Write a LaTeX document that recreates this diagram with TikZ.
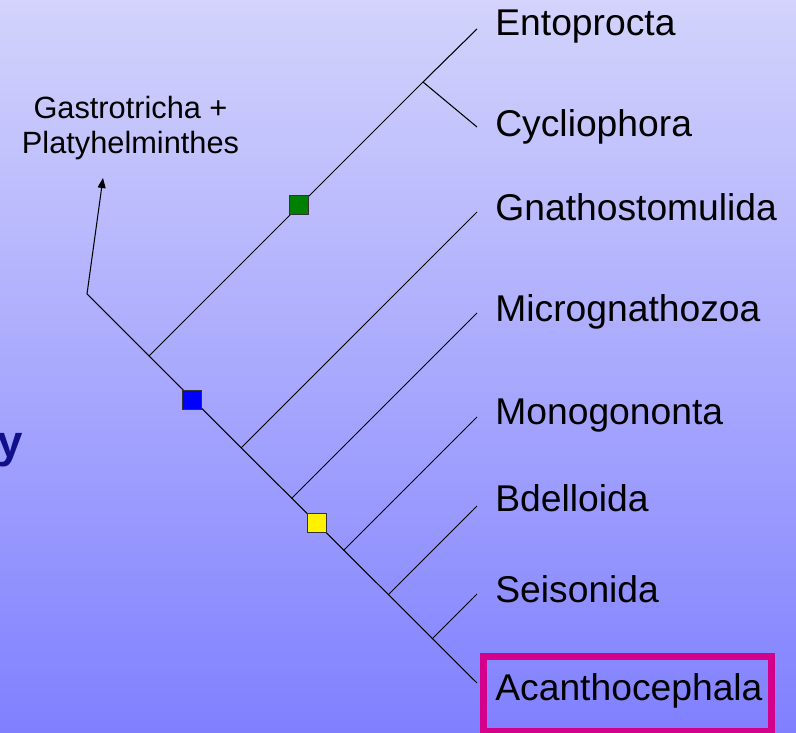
\documentclass[tikz,border=0pt]{standalone}
\usepackage{fontspec}
\setmainfont{Liberation Sans}
\usetikzlibrary{arrows.meta}

\definecolor{bgtop}{RGB}{211,211,252}
\definecolor{bgbot}{RGB}{128,128,255}
\definecolor{boxpink}{RGB}{212,0,140}
\definecolor{titleblue}{RGB}{16,16,140}
\definecolor{sqgreen}{RGB}{0,128,0}

\tikzset{
  branch/.style={line width=0.6pt, black},
  taxon/.style={anchor=base west, inner sep=0pt, font=\fontsize{21.2}{25}\selectfont},
  apo/.style={draw=black!80, line width=0.7pt, minimum size=0.37cm, inner sep=0pt},
}

\begin{document}
\begin{tikzpicture}[x=0.02cm, y=-0.02cm]
    \shade[top color=bgtop, bottom color=bgbot] (0,0) rectangle (796,733);
    \useasboundingbox (0,0) rectangle (796,733);
    \clip (0,0) rectangle (796,733);

    % tree points
    \coordinate (root) at (87,294);
    \coordinate (jEC) at (149,356);
    \coordinate (nEC) at (423,82);
    \coordinate (jGn) at (241,448);
    \coordinate (jMi) at (291.5,498.5);
    \coordinate (jMo) at (343.5,550.5);
    \coordinate (jBd) at (388,595);
    \coordinate (jSe) at (432,639);
    \coordinate (tEn) at (477,29);
    \coordinate (tCy) at (477,127);
    \coordinate (tGn) at (477,212);
    \coordinate (tMi) at (477,313);
    \coordinate (tMo) at (477,417);
    \coordinate (tBd) at (477,506);
    \coordinate (tSe) at (477,594);
    \coordinate (tAc) at (477,683);
    \coordinate (arr) at (103,178);

    % stem and branches
    \draw[branch] (root) -- (tAc);
    \draw[branch] (jEC) -- (nEC) -- (tEn);
    \draw[branch] (nEC) -- (tCy);
    \draw[branch] (jGn) -- (tGn);
    \draw[branch] (jMi) -- (tMi);
    \draw[branch] (jMo) -- (tMo);
    \draw[branch] (jBd) -- (tBd);
    \draw[branch] (jSe) -- (tSe);

    % outgroup arrow
    \draw[branch, -{Triangle[length=2mm, width=1.6mm]}] (root) -- (arr);
    \node[align=center, inner sep=0pt, anchor=base, font=\fontsize{17.5}{20.4}\selectfont] (outg) at (130.5,154) {Gastrotricha +\\Platyhelminthes};

    % apomorphies
    \node[apo, fill=sqgreen] (sqG) at (299,205) {};
    \node[apo, fill=blue] (sqB) at (192,400) {};
    \node[apo, fill=yellow] (sqY) at (317,523) {};

    % taxa
    \node[taxon] (lEn) at (495,36) {Entoprocta};
    \node[taxon] (lCy) at (495,137) {Cycliophora};
    \node[taxon] (lGn) at (495,221) {Gnathostomulida};
    \node[taxon] (lMi) at (495,322) {Micrognathozoa};
    \node[taxon] (lMo) at (495,425) {Monogononta};
    \node[taxon] (lBd) at (495,512) {Bdelloida};
    \node[taxon] (lSe) at (495,603) {Seisonida};
    \node[taxon] (lAc) at (495,701) {Acanthocephala};
    \draw[boxpink, line width=0.14cm] (483.5,656.5) rectangle (771.5,731.5);

    % title remnant
    \node[anchor=base west, inner sep=0pt, text=titleblue, font=\bfseries\fontsize{26}{30}\selectfont] (ttl) at (-3,458) {y};
\end{tikzpicture}
\end{document}
